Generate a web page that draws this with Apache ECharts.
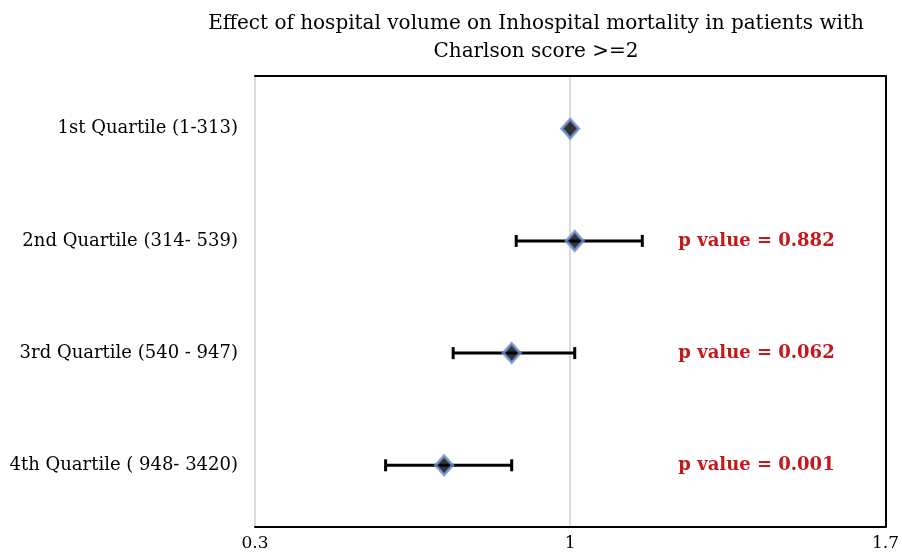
<!DOCTYPE html>
<html>
<head>
<meta charset="utf-8">
<script src="https://cdn.jsdelivr.net/npm/echarts@6/dist/echarts.min.js"></script>
<style>
  html, body { margin: 0; padding: 0; background: #fff; }
  #forestChart { width: 902px; height: 552px; }
</style>
</head>
<body>
<div id="forestChart"></div>
<script>
// quartiles of hospital volume
var categories = [
  '1st Quartile (1-313)',
  '2nd Quartile (314- 539)',
  '3rd Quartile (540 - 947)',
  '4th Quartile ( 948- 3420)'
];
// odds ratio + 95% CI (1st quartile is the reference)
var oddsRatio = [1, 1.01, 0.87, 0.72];
var ciLower = [null, 0.88, 0.74, 0.59];
var ciUpper = [null, 1.16, 1.01, 0.87];
var pValues = [null, '0.882', '0.062', '0.001'];
var xTicks = [0.3, 1, 1.7];

var serif = '"DejaVu Serif", "Liberation Serif", serif';
var pLabelX = 1.24; // where the p value text starts (axis units)

var pointData = oddsRatio.map(function (v, i) { return [v, i]; });
var ciData = [];
oddsRatio.forEach(function (v, i) {
  if (ciLower[i] != null) ciData.push([ciLower[i], ciUpper[i], i]);
});

var option = {
  animation: false,
  title: {
    text: 'Effect of hospital volume on Inhospital mortality in patients with\nCharlson score >=2',
    left: 531,
    top: 5,
    textAlign: 'center',
    textStyle: {
      fontFamily: serif,
      fontSize: 20,
      fontWeight: 'normal',
      color: '#000',
      lineHeight: 28
    }
  },
  grid: { left: 255, right: 11, top: 76, bottom: 24 },
  xAxis: [{
    type: 'value',
    min: xTicks[0],
    max: xTicks[xTicks.length - 1],
    interval: 0.7,
    axisLine: { show: true, onZero: false, lineStyle: { color: '#000', width: 2 } },
    axisTick: { show: false },
    axisLabel: {
      fontFamily: serif,
      fontSize: 17,
      color: '#000',
      margin: 8,
      formatter: function (v) { return String(Math.round(v * 10) / 10); }
    },
    splitLine: { show: true, lineStyle: { color: '#cfcfcf', width: 1.5 } }
  }, {
    type: 'value',
    position: 'top',
    min: xTicks[0],
    max: xTicks[xTicks.length - 1],
    interval: 0.7,
    axisLine: { show: true, onZero: false, lineStyle: { color: '#000', width: 2 } },
    axisTick: { show: false },
    axisLabel: { show: false },
    splitLine: { show: false }
  }],
  yAxis: [{
    // value axis so the rows sit where the original puts them
    type: 'value',
    min: -0.47,
    max: 3.55,
    inverse: true,
    axisLine: { show: false, onZero: false },
    axisTick: { show: false },
    splitLine: { show: false },
    axisLabel: {
      customValues: [0, 1, 2, 3],
      formatter: function (v) { return categories[v] || ''; },
      fontFamily: serif,
      fontSize: 18,
      color: '#000',
      margin: 17
    }
  }, {
    type: 'value',
    min: -0.47,
    max: 3.55,
    inverse: true,
    position: 'right',
    axisLine: { show: true, onZero: false, lineStyle: { color: '#000', width: 2 } },
    axisTick: { show: false },
    axisLabel: { show: false },
    splitLine: { show: false }
  }],
  series: [{
    name: 'ci',
    type: 'custom',
    xAxisIndex: 0,
    yAxisIndex: 0,
    data: ciData,
    encode: { x: [0, 1], y: 2 },
    renderItem: function (params, api) {
      var lo = api.coord([api.value(0), api.value(2)]);
      var hi = api.coord([api.value(1), api.value(2)]);
      var cap = 6;
      var lineStyle = { stroke: '#000', lineWidth: 3 };
      var txt = api.coord([pLabelX, api.value(2)]);
      return {
        type: 'group',
        children: [
          { type: 'line', shape: { x1: lo[0], y1: lo[1], x2: hi[0], y2: hi[1] }, style: lineStyle },
          { type: 'line', shape: { x1: lo[0], y1: lo[1] - cap, x2: lo[0], y2: lo[1] + cap }, style: lineStyle },
          { type: 'line', shape: { x1: hi[0], y1: hi[1] - cap, x2: hi[0], y2: hi[1] + cap }, style: lineStyle },
          {
            type: 'text',
            x: txt[0],
            y: txt[1],
            style: {
              text: 'p value = ' + pValues[api.value(2)],
              fill: '#c8161d',
              font: 'bold 18px ' + serif,
              textAlign: 'left',
              textVerticalAlign: 'middle'
            }
          }
        ]
      };
    }
  }, {
    name: 'odds ratio',
    type: 'scatter',
    xAxisIndex: 0,
    yAxisIndex: 0,
    data: pointData,
    symbol: 'diamond',
    symbolSize: [17, 19],
    z: 5,
    itemStyle: {
      color: '#000',
      borderColor: '#6f93d6',
      borderWidth: 3
    }
  }]
};

var forestChart = echarts.init(document.getElementById('forestChart'));
forestChart.setOption(option);
</script>
</body>
</html>
